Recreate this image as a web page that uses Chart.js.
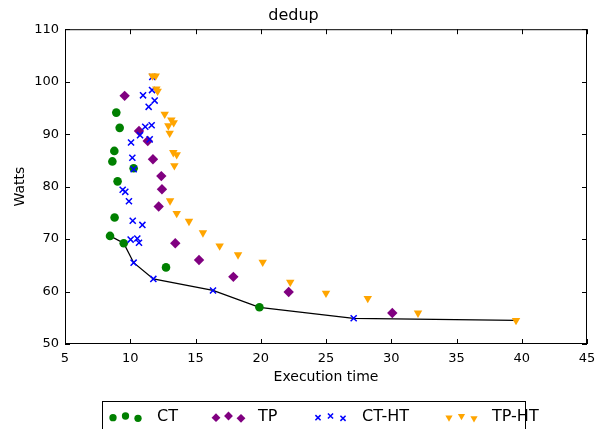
<!DOCTYPE html>
<html>
<head>
<meta charset="utf-8">
<script src="https://cdn.jsdelivr.net/npm/chart.js@4.4.1/dist/chart.umd.min.js"></script>
<style>
  body { margin: 0; background: #fff; }
  canvas { display: block; }
</style>
</head>
<body>
<canvas id="myChart" width="609" height="429"></canvas>
<script>
// values
const ctTime = [8.93, 9.19, 8.78, 8.63, 10.26, 9.03, 8.8, 8.45, 9.5, 12.74, 19.9];
const ctWatts = [94.1, 91.2, 86.8, 84.8, 83.5, 81.0, 74.1, 70.6, 69.2, 64.6, 57.0];

const tpTime = [9.57, 10.67, 11.34, 11.74, 12.38, 12.43, 12.18, 13.45, 15.27, 17.9, 22.14, 30.08];
const tpWatts = [97.3, 90.6, 88.7, 85.2, 82.0, 79.5, 76.2, 69.2, 66.0, 62.8, 59.9, 55.9];

const ctHtTime = [11.69, 11.67, 10.98, 11.87, 11.41, 11.64, 11.15, 10.75, 11.49, 10.06, 10.16, 10.26,
                  9.42, 9.62, 9.9, 10.19, 10.93, 10.03, 10.54, 10.67, 10.26, 11.77, 16.34, 27.12];
const ctHtWatts = [100.9, 98.4, 97.4, 96.4, 95.2, 91.7, 91.4, 89.8, 89.0, 88.4, 85.5, 83.3,
                   79.4, 79.0, 77.2, 73.5, 72.7, 69.9, 70.1, 69.3, 65.5, 62.4, 60.2, 54.9];

const tpHtTime = [11.7, 11.95, 12.0, 12.1, 12.64, 13.15, 13.33, 12.92, 13.02, 13.3, 13.56, 13.38,
                  13.05, 13.56, 14.5, 15.57, 16.85, 18.26, 20.15, 22.26, 25.0, 28.2, 32.05, 39.56];
const tpHtWatts = [101.1, 101.1, 98.6, 98.2, 93.8, 92.7, 92.2, 91.6, 90.2, 86.5, 86.1, 84.0,
                   77.3, 74.9, 73.4, 71.2, 68.7, 67.0, 65.6, 61.8, 59.7, 58.7, 55.9, 54.5];

// pareto front drawn as the black line
const frontTime = [8.45, 9.5, 10.26, 11.77, 16.34, 19.9, 27.12, 39.56];
const frontWatts = [70.6, 69.2, 65.5, 62.4, 60.2, 57.0, 54.9, 54.5];

const seriesNames = ['CT', 'TP', 'CT-HT', 'TP-HT'];
const xTicks = [5, 10, 15, 20, 25, 30, 35, 40, 45];
const yTicks = [50, 60, 70, 80, 90, 100, 110];

const FONT = 'DejaVu Sans';

function pts(xs, ys) {
    return xs.map((x, i) => ({ x: x, y: ys[i] }));
}

const markers = [
    { color: '#008000', style: 'circle', radius: 4.3, rotation: 0, border: 0 },
    { color: '#800080', style: 'rectRot', radius: 5.2, rotation: 0, border: 0 },
    { color: '#0000ff', style: 'crossRot', radius: 4.3, rotation: 0, border: 1.5 },
    { color: '#ffa500', style: 'triangle', radius: 4.9, rotation: 180, border: 0 }
];

const seriesData = [pts(ctTime, ctWatts), pts(tpTime, tpWatts), pts(ctHtTime, ctHtWatts), pts(tpHtTime, tpHtWatts)];

// later series on top, like the original plot
const datasets = seriesNames.map((name, i) => ({
    label: name,
    data: seriesData[i],
    pointStyle: markers[i].style,
    pointRadius: markers[i].radius,
    pointRotation: markers[i].rotation,
    pointBackgroundColor: markers[i].color,
    pointBorderColor: markers[i].color,
    pointBorderWidth: markers[i].border,
    showLine: false,
    order: 4 - i
}));

datasets.push({
    label: 'front',
    type: 'line',
    data: pts(frontTime, frontWatts),
    borderColor: '#000',
    borderWidth: 1.3,
    pointRadius: 0,
    fill: false,
    tension: 0,
    order: 10
});

// box, inward ticks and the matplotlib-like legend
const framePlugin = {
    id: 'frame',
    afterDraw(chart) {
        const ctx = chart.ctx;
        const a = chart.chartArea;
        const xs = chart.scales.x, ys = chart.scales.y;
        ctx.save();
        ctx.strokeStyle = '#000';
        ctx.lineWidth = 1;
        ctx.strokeRect(a.left + 0.5, a.top + 0.5, a.right - a.left - 1, a.bottom - a.top - 1);
        ctx.beginPath();
        xTicks.forEach(v => {
            const px = Math.round(xs.getPixelForValue(v)) + 0.5;
            ctx.moveTo(px, a.bottom); ctx.lineTo(px, a.bottom - 5);
            ctx.moveTo(px, a.top); ctx.lineTo(px, a.top + 5);
        });
        yTicks.forEach(v => {
            const py = Math.round(ys.getPixelForValue(v)) + 0.5;
            ctx.moveTo(a.left, py); ctx.lineTo(a.left + 5, py);
            ctx.moveTo(a.right, py); ctx.lineTo(a.right - 5, py);
        });
        ctx.stroke();

        // legend
        ctx.strokeRect(102.5, 401.5, 423, 40);
        const groupX = [113, 216, 318, 449];
        const textX = [157, 258, 362, 492];
        const offX = [0, 12.5, 25];
        const offY = [417.7, 416, 418.3];
        seriesNames.forEach((name, i) => {
            const m = markers[i];
            ctx.fillStyle = m.color;
            ctx.strokeStyle = m.color;
            ctx.lineWidth = m.border || 0.01;
            offX.forEach((dx, k) => {
                Chart.helpers.drawPoint(ctx, {
                    pointStyle: m.style,
                    radius: m.radius * 0.85,
                    rotation: m.rotation,
                    borderWidth: m.border
                }, groupX[i] + dx, offY[k]);
            });
            ctx.fillStyle = '#000';
            ctx.font = '16px "' + FONT + '"';
            ctx.textBaseline = 'middle';
            ctx.textAlign = 'left';
            ctx.fillText(name, textX[i], 417);
        });
        ctx.restore();
    }
};

const myChart = new Chart(document.getElementById('myChart'), {
    type: 'scatter',
    data: { datasets: datasets },
    plugins: [framePlugin],
    options: {
        responsive: false,
        animation: false,
        events: [],
        layout: {
            autoPadding: false,
            padding: { left: 0, right: 22, top: 0, bottom: 35 }
        },
        plugins: {
            legend: { display: false },
            tooltip: { enabled: false },
            title: {
                display: true,
                text: 'dedup',
                color: '#000',
                font: { family: FONT, size: 16, weight: 'normal' },
                padding: { top: 6, bottom: 4 }
            }
        },
        scales: {
            x: {
                type: 'linear',
                min: 5,
                max: 45,
                afterFit: s => { s.height = 50; },
                afterBuildTicks: s => { s.ticks = xTicks.map(v => ({ value: v })); },
                grid: { display: false, drawTicks: false },
                border: { display: false },
                ticks: { color: '#000', padding: 7, font: { family: FONT, size: 13 } },
                title: {
                    display: true,
                    text: 'Execution time',
                    color: '#000',
                    font: { family: FONT, size: 14 },
                    padding: { top: 0, bottom: 8 }
                }
            },
            y: {
                type: 'linear',
                min: 50,
                max: 110,
                afterFit: s => { s.width = 65; },
                afterBuildTicks: s => { s.ticks = yTicks.map(v => ({ value: v })); },
                grid: { display: false, drawTicks: false },
                border: { display: false },
                ticks: { color: '#000', padding: 6, font: { family: FONT, size: 13 } },
                title: {
                    display: true,
                    text: 'Watts',
                    color: '#000',
                    font: { family: FONT, size: 14 },
                    padding: { top: 12, bottom: 0 }
                }
            }
        }
    }
});
</script>
</body>
</html>
